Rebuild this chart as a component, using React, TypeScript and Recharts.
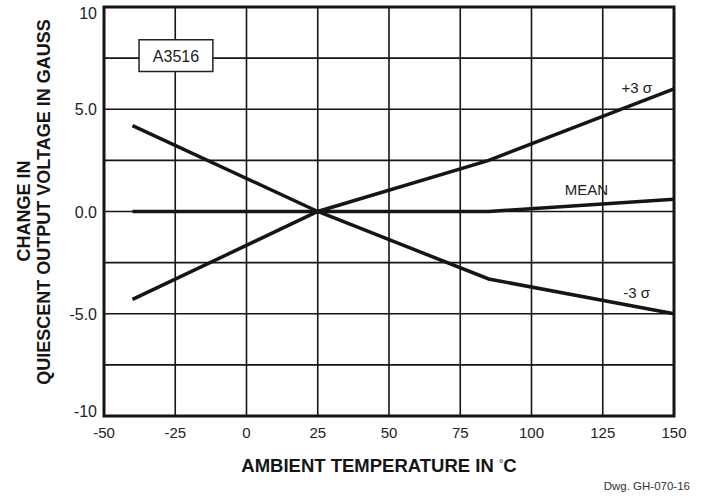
import React from 'react';
import {
  LineChart,
  Line,
  XAxis,
  YAxis,
  CartesianGrid,
  ReferenceArea,
  LabelList,
} from 'recharts';

// temperature break points (°C) and the drift of each curve (gauss)
const temps = [-40, 25, 85, 150];
const plus3Sigma = [-4.3, 0, 2.5, 6.0];
const meanShift = [0, 0, 0, 0.6];
const minus3Sigma = [4.2, 0, -3.3, -5.0];

const xTicks = [-50, -25, 0, 25, 50, 75, 100, 125, 150];
const yTicks = [-10, -7.5, -5, -2.5, 0, 2.5, 5, 7.5, 10];
const yTickText: Record<string, string> = {
  '10': '10',
  '5': '5.0',
  '0': '0.0',
  '-5': '-5.0',
  '-10': '-10',
};

const FONT = '"Liberation Sans", Arial, sans-serif';
const INK = '#151515';

const rows = temps.map((t, i) => ({
  temp: t,
  plus: plus3Sigma[i],
  mean: meanShift[i],
  minus: minus3Sigma[i],
}));

const XTick = (props: any) => {
  const { x, y, payload } = props;
  return (
    <text x={x} y={y + 22} textAnchor="middle" fontFamily={FONT} fontSize={15} fill="#222">
      {payload.value}
    </text>
  );
};

const YTick = (props: any) => {
  const { x, y, payload } = props;
  const txt = yTickText[String(payload.value)];
  if (!txt) return <g />;
  // end labels sit a little inside the frame
  const shift = payload.value === 10 ? 6 : payload.value === -10 ? -5 : 0;
  return (
    <text x={x} y={y + shift + 6} textAnchor="end" fontFamily={FONT} fontSize={16} fill="#222">
      {txt}
    </text>
  );
};

// curve name written near the right end of its line
const endTag = (text: string, dx: number, dy: number) => (props: any) => {
  const { x, y, index } = props;
  if (index !== temps.length - 1) return null;
  return (
    <text x={x + dx} y={y + dy} textAnchor="end" fontFamily={FONT} fontSize={15} fill="#222">
      {text}
    </text>
  );
};

const XTitle = (props: any) => {
  const { viewBox } = props;
  const cx = viewBox.x + viewBox.width / 2 - 10;
  return (
    <g fontFamily={FONT}>
      <text x={cx} y={472} textAnchor="middle" fontSize={18.5} fontWeight="bold" fill={INK}>
        AMBIENT TEMPERATURE IN <tspan fontSize={11} fontWeight="normal" dy={-5}>°</tspan>
        <tspan dy={5}>C</tspan>
      </text>
      <text x={690} y={490} textAnchor="end" fontSize={11.5} fill="#333">
        Dwg. GH-070-16
      </text>
    </g>
  );
};

const YTitle = () => (
  <g fontFamily={FONT} fontSize={18} fontWeight="bold" fill={INK}>
    <text x={30} y={211} transform="rotate(-90 30 211)" textAnchor="middle">
      CHANGE IN
    </text>
    <text x={50} y={202} transform="rotate(-90 50 202)" textAnchor="middle">
      QUIESCENT OUTPUT VOLTAGE IN GAUSS
    </text>
  </g>
);

const PartBox = (props: any) => {
  const { viewBox } = props;
  return (
    <text
      x={viewBox.x + viewBox.width / 2}
      y={viewBox.y + viewBox.height / 2 + 6}
      textAnchor="middle"
      fontFamily={FONT}
      fontSize={16}
      fill="#222"
    >
      A3516
    </text>
  );
};

export default function App() {
  return (
    <div style={{ position: 'absolute', left: 0, top: 0, width: 707, height: 496, background: '#fff' }}>
      <LineChart
        width={707}
        height={496}
        data={rows}
        margin={{ top: 7, right: 33, bottom: 30, left: 44 }}
      >
        <CartesianGrid stroke={INK} strokeWidth={1.6} horizontal vertical />
        <XAxis
          dataKey="temp"
          type="number"
          domain={[-50, 150]}
          ticks={xTicks}
          interval={0}
          height={50}
          tickLine={false}
          axisLine={false}
          tickSize={0}
          tickMargin={0}
          tick={XTick}
          label={{ content: XTitle }}
        />
        <YAxis
          type="number"
          domain={[-10, 10]}
          ticks={yTicks}
          interval={0}
          width={60}
          tickLine={false}
          axisLine={false}
          tickSize={0}
          tickMargin={7}
          tick={YTick}
          label={{ content: YTitle }}
        />
        <ReferenceArea
          x1={-37.7}
          x2={-11.8}
          y1={6.85}
          y2={8.4}
          fill="#fff"
          fillOpacity={1}
          stroke="#222"
          strokeWidth={1.5}
          label={{ content: PartBox }}
        />
        <ReferenceArea
          x1={-50}
          x2={150}
          y1={-10}
          y2={10}
          fill="none"
          stroke={INK}
          strokeWidth={3}
        />
        <Line type="linear" dataKey="plus" stroke={INK} strokeWidth={3.5} dot={false} isAnimationActive={false}>
          <LabelList dataKey="plus" content={endTag('+3 σ', -22, 4)} />
        </Line>
        <Line type="linear" dataKey="mean" stroke={INK} strokeWidth={3.5} dot={false} isAnimationActive={false}>
          <LabelList dataKey="mean" content={endTag('MEAN', -66, -4)} />
        </Line>
        <Line type="linear" dataKey="minus" stroke={INK} strokeWidth={3.5} dot={false} isAnimationActive={false}>
          <LabelList dataKey="minus" content={endTag('-3 σ', -24, -16)} />
        </Line>
      </LineChart>
    </div>
  );
}
